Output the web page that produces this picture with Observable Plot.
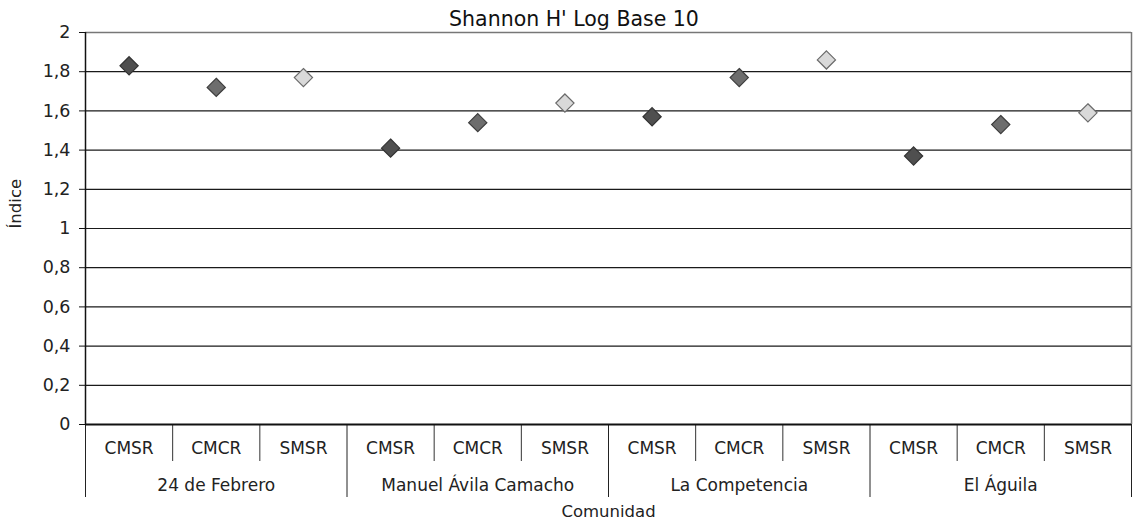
<!DOCTYPE html>
<html><head><meta charset="utf-8">
<script src="https://cdn.jsdelivr.net/npm/d3@7"></script>
<script src="https://cdn.jsdelivr.net/npm/@observablehq/plot@0.6"></script>
<style>
body{margin:0;background:#fff;font-family:"DejaVu Sans",sans-serif;position:relative;}
#title{position:absolute;left:0;top:9px;width:1148px;font-size:20.5px;line-height:20px;text-align:center;color:#111;white-space:nowrap;z-index:2;}
#chart svg{display:block;}
</style></head><body>
<div id="chart"></div>
<div id="title">Shannon H' Log Base 10</div>
<script>
const groups = ["24 de Febrero", "Manuel Ávila Camacho", "La Competencia", "El Águila"];
const categories = ["CMSR", "CMCR", "SMSR"];
const cmsr = [1.83, 1.41, 1.57, 1.37];
const cmcr = [1.72, 1.54, 1.77, 1.53];
const smsr = [1.77, 1.64, 1.86, 1.59];
const yTicks = [0, 0.2, 0.4, 0.6, 0.8, 1, 1.2, 1.4, 1.6, 1.8, 2];
const fills = {CMSR: "#4f4f4f", CMCR: "#6d6d6d", SMSR: "#d9d9d9"};
const strokes = {CMSR: "#333", CMCR: "#3d3d3d", SMSR: "#6a6a6a"};

const series = {CMSR: cmsr, CMCR: cmcr, SMSR: smsr};
const nC = categories.length;
const points = [];
groups.forEach((g, gi) => categories.forEach((c, ci) => {
  points.push({group: g, cat: c, pos: gi * nC + ci + 0.5, value: series[c][gi]});
}));
const groupLabels = groups.map((g, gi) => ({group: g, pos: gi * nC + nC / 2}));
const innerDiv = [], groupDiv = [];
for (let k = 0; k <= groups.length * nC; k++) (k % nC === 0 ? groupDiv : innerDiv).push(k);
const fmt = d => String(d).replace(".", ",");
const font = "DejaVu Sans";

const plot = Plot.plot({
  width: 1148,
  height: 521,
  marginTop: 32,
  marginBottom: 97,
  marginLeft: 85,
  marginRight: 17,
  style: {fontFamily: font, background: "transparent", color: "#222"},
  x: {domain: [0, groups.length * nC], axis: null},
  y: {domain: [0, 2], axis: null},
  marks: [
    Plot.ruleY(yTicks.filter(d => d > 0 && d < 2), {y: d => d, stroke: "#1a1a1a", strokeWidth: 1.2}),
    Plot.ruleY([2], {stroke: "#777", strokeWidth: 1.5}),
    Plot.ruleX([groups.length * nC], {y1: 0, y2: 2, stroke: "#777", strokeWidth: 1.5}),
    Plot.axisY({ticks: yTicks, tickFormat: fmt, tickSize: 6, tickPadding: 9, fontSize: 17.5, label: null, stroke: "#111"}),
    Plot.ruleX(innerDiv, {x: d => d, y1: 0, y2: 0, insetBottom: -37, stroke: "#333"}),
    Plot.ruleX(groupDiv, {x: d => d, y1: 0, y2: 0, insetBottom: -73, stroke: "#222"}),
    Plot.ruleX([0], {y1: 0, y2: 2, stroke: "#111", strokeWidth: 1.5}),
    Plot.ruleY([0], {stroke: "#111", strokeWidth: 2}),
    Plot.text(points, {x: "pos", y: 0, text: "cat", dy: 24, fontSize: 17, fill: "#222", lineAnchor: "middle"}),
    Plot.text(groupLabels, {x: "pos", y: 0, text: "group", dy: 61, fontSize: 17, fill: "#222", lineAnchor: "middle"}),
    Plot.text(["Comunidad"], {frameAnchor: "bottom", dy: 87, fontSize: 16.5, fill: "#222", lineAnchor: "middle"}),
    Plot.text(["Índice"], {frameAnchor: "left", dx: -70, rotate: -90, fontSize: 16.5, fill: "#222"}),
    Plot.dot(points, {x: "pos", y: "value", symbol: "diamond2", r: 8.2, fill: d => fills[d.cat], stroke: d => strokes[d.cat], strokeWidth: 1.2})
  ]
});
document.getElementById("chart").appendChild(plot);
</script>
</body></html>
